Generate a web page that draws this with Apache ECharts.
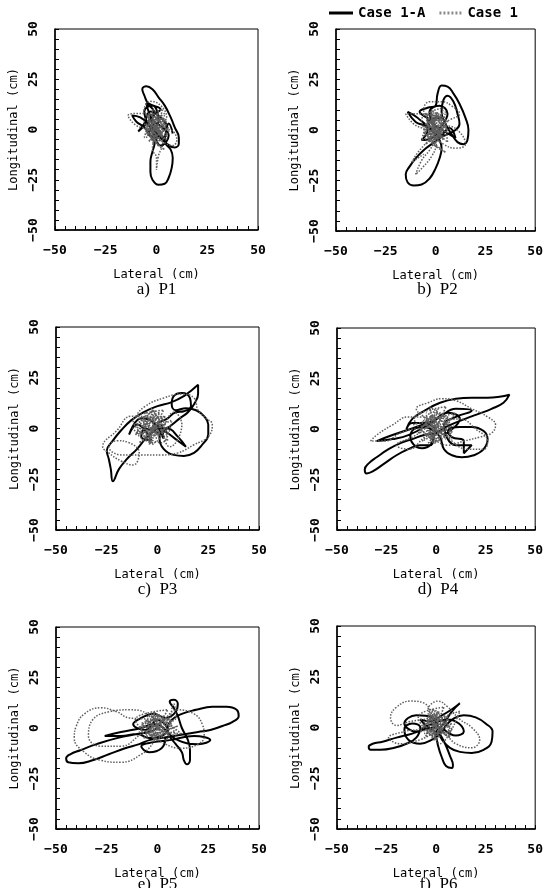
<!DOCTYPE html>
<html>
<head>
<meta charset="utf-8">
<script src="https://cdn.jsdelivr.net/npm/echarts@6/dist/echarts.min.js"></script>
<style>
  html, body { margin: 0; padding: 0; background: #fff; }
  #container { width: 546px; height: 888px; }
</style>
</head>
<body>
<div id="container"></div>
<script>
var AXIS_TICKS = [-50, -25, 0, 25, 50];
var PANEL_LABELS = ['a)  P1', 'b)  P2', 'c)  P3', 'd)  P4', 'e)  P5', 'f)  P6'];
var SERIES_NAMES = ['Case 1-A', 'Case 1'];

// Case 1-A (black) and Case 1 (grey dotted) trajectories, [lateral, longitudinal] in cm
var p1CaseA = [[0,0],[-3,6],[2,10],[-4,13],[-6,17],[-7,20],[-5,21.5],[-2,20],[1,16],[4,12],[7,6],[9,1],[11,-4],[11,-7],[9,-9],[5,-7],[1,-3],[-3,2],[-8,6],[-12,7],[-10,4],[-6,1],[-3,-3],[-1,-7],[-2,-11],[-3,-16],[-3,-21],[-2,-25],[1,-27.5],[4,-27],[6,-24],[7.5,-19],[8,-14],[7,-10],[4,-6],[5,1],[2,6],[-3,9],[-6,3],[-9,-1],[-5,3],[-1,8],[-5,13],[-2,5],[3,1],[6,-3],[2,-8],[-1,-3],[-6,9],[-2,12],[1,4],[-4,-2],[3,-4],[6,3],[8,-2]];
var p1Case1 = [[0,0],[-4,5],[3,-3],[-2,8],[4,4],[-5,-2],[2,7],[5,-5],[-3,2],[1,-8],[-6,4],[3,10],[-1,-4],[6,1],[-4,-6],[2,3],[-8,8],[-14,7],[-10,2],[-4,0],[3,-6],[8,-8],[10,-5],[6,0],[1,-2],[-2,-10],[0,-14],[0,-20],[1,-13],[3,-7],[-1,3],[-6,10],[-3,14],[2,12],[5,6],[0,2],[-3,-3],[4,-10],[-5,1],[2,5],[-2,-1],[5,3],[-4,7],[0,-6],[3,1],[-1,6],[-6,-4],[1,-1],[4,8],[-2,2],[3,-2],[-3,4],[4,-5],[-2,6],[2,-6],[-5,3],[5,5],[-1,-7],[-4,8],[6,-1],[-3,-5],[1,9],[-6,0],[4,2],[0,-3],[-2,10],[3,4],[-5,-3],[2,0]];

var p2CaseA = [[0,0],[-3,5],[-8,9],[-4,11],[0,12],[1,18],[3,22],[6,21.5],[9,18],[12,13],[15,6],[16.5,0],[16,-5],[14,-7],[11,-6],[8,-2],[5,3],[3,9],[4,15],[6,17],[9,14],[11,8],[12,3],[10,0],[6,-2],[2,-4],[-2,-7],[-6,-10],[-10,-14],[-13,-18],[-15,-22],[-14,-26],[-11,-27.5],[-7,-27],[-3,-24],[0,-19],[2,-14],[3,-9],[2,-5],[0,-2],[-5,2],[-10,4],[-14,9],[-9,6],[-4,0],[-7,-5],[-2,-4],[3,2],[6,8],[2,12],[-3,9],[-1,3],[5,-1],[10,-4],[7,1],[2,-3],[-4,5],[4,6]];
var p2Case1 = [[0,0],[-4,6],[3,-4],[-2,9],[5,3],[-6,-3],[2,8],[6,-6],[-3,2],[1,-9],[-7,5],[4,11],[-1,-5],[7,1],[-5,-7],[2,4],[-9,8],[-15,8],[-11,3],[-5,0],[4,-7],[10,-9],[15,-7],[12,-1],[6,2],[2,-2],[-3,-10],[-7,-15],[-10,-22],[-6,-18],[-2,-13],[0,-8],[-1,3],[-6,10],[-3,14],[3,14],[8,12],[12,8],[7,5],[1,2],[-4,-3],[5,-11],[-6,1],[2,6],[-2,-1],[6,4],[-5,8],[0,-6],[4,1],[-1,7],[-7,-5],[1,-1],[5,9],[-2,2],[3,-2],[-3,4],[4,-5],[-2,6],[2,-6],[-5,3],[5,5],[-1,-7],[-4,8],[6,-1],[-3,-5],[1,9],[-6,0],[4,2],[0,-3],[-2,10],[3,4],[-5,-3],[2,0],[-8,-10],[-12,-16],[-6,-12]];

var p3CaseA = [[0,0],[-5,-4],[-10,-10],[-15,-15],[-19,-20],[-22,-26],[-23,-20],[-24,-15],[-25,-11],[-22,-6],[-18,-1],[-13,4],[-7,8],[0,11],[7,13],[13,16],[17,19],[20,21.5],[20,17],[18,12],[15,8],[11,5],[6,1],[2,-1],[1,-5],[3,-10],[8,-13],[13,-13.5],[18,-12],[22,-8],[25,-3],[25,2],[23,6],[19,9],[14,10],[9,9],[7,12],[8,16],[12,17.5],[16,15],[16.5,11],[13,8.5],[9,8],[5,5],[0,2],[6,-3],[10,-6],[14,-9],[10,-4],[5,0],[0,-2],[-6,0],[-8,-4],[-3,-6],[-10,2],[-14,-3],[-8,5],[-2,3],[3,-5],[2,2]];
var p3Case1 = [[-3,0],[-9,5],[2,-4],[-6,8],[4,3],[-11,-3],[0,7],[5,-6],[-7,2],[-2,-8],[-12,4],[3,9],[-4,-5],[6,1],[-9,-7],[1,4],[-13,6],[-20,-1],[-27,-9],[-24,-12],[-18,-16],[-12,-18],[-9,-12],[-14,-7],[-20,-6],[-24,-9],[-18,-13],[-8,-13],[2,-13],[10,-12],[18,-8],[25,-4],[27,2],[24,5],[20,9],[18,15],[12,17],[3,15],[-6,11],[-10,6],[-4,2],[-8,-1],[2,-7],[7,4],[-1,0],[-6,-4],[3,6],[-10,1],[5,-2],[-3,10],[0,-5],[8,8],[12,2],[6,-9],[-1,3],[-5,2],[0,-3],[-8,6],[3,1],[-2,-7],[-10,-2],[4,6],[-6,-6],[1,8],[-12,0],[5,-4],[-3,5],[-7,-2],[2,3],[-4,-8],[-1,9],[-9,3],[3,-1]];

var p4CaseA = [[0,0],[-6,3],[-12,3],[-15,0],[-12,5],[-6,9],[2,13],[10,15],[18,15.5],[26,15.5],[32,16],[37,17],[34,13],[28,10],[20,7],[12,4],[5,1],[0,-2],[-6,-3],[-12,-5],[-18,-7],[-24,-10],[-30,-14],[-34,-17],[-36,-20],[-35,-22],[-32,-21],[-26,-17],[-20,-13],[-14,-10],[-8,-8],[-3,-8],[-1,-3],[-3,-8],[-7,-9.5],[-11,-8],[-13,-4],[-11,0],[-6,1],[-1,-1],[2,-4],[4,-10],[8,-13],[13,-14],[19,-13],[24,-10],[26,-5],[24,-1],[18,1],[12,1],[6,-1],[8,-4],[14,-6],[14,-12],[18,-8],[10,-8],[4,2],[10,6],[18,9],[10,10],[2,6],[-4,2],[-14,-3],[-22,-5],[-30,-6],[-22,-3],[-10,1],[-2,4],[6,8],[12,5],[4,-3]];
var p4Case1 = [[0,0],[-6,5],[4,-3],[-3,9],[7,4],[-9,-2],[2,8],[8,-5],[-5,2],[0,-7],[-11,5],[5,11],[-2,-4],[9,2],[-7,-6],[3,5],[-14,6],[-22,2],[-30,-3],[-33,-6],[-26,-6],[-18,-2],[-10,0],[-4,-3],[6,-8],[14,-6],[22,-4],[28,-2],[30,2],[26,6],[18,10],[10,14],[3,15],[-4,13],[-10,10],[-6,6],[1,2],[-4,-7],[7,-2],[-3,3],[4,7],[-8,1],[12,5],[20,0],[26,-6],[24,-10],[16,-10],[8,-6],[0,2],[-12,-4],[-20,-8],[-14,-10],[-6,-4],[2,4],[-1,-1],[3,-2],[-4,4],[5,-5],[-2,7],[2,-6],[-7,3],[6,6],[-1,-7],[-5,8],[8,-1],[-3,-5],[1,10],[-8,0],[5,3],[0,-3],[-3,11],[4,4],[-6,-3],[2,0],[10,8],[-12,2]];

var p5CaseA = [[0,0],[-4,-2],[-10,-3],[-20,-5],[-30,-8],[-38,-11],[-43,-13],[-45,-15],[-44,-17],[-39,-17.5],[-32,-16],[-24,-13],[-16,-10],[-9,-8],[-4,-6],[2,-5],[8,-4],[14,-3],[20,-2],[26,-1],[32,1],[37,3],[40,6],[39,9],[34,10.5],[27,10.5],[19,9],[12,7],[7,4],[5,0],[6,-4],[9,-8],[12,-12],[13,-16],[14.5,-18],[16,-16],[16,-11],[15,-6],[12,0],[10,6],[8,10],[6,13],[8,14],[10,12],[9,8],[4,5],[-2,7],[-8,5],[-12,2],[-6,-1],[0,4],[5,-1],[-4,-5],[-10,-3],[-18,-4],[-26,-4],[-18,-2],[-8,0],[-2,2],[10,-6],[20,-8],[26,-6],[18,-4],[6,-6],[-2,-7],[-8,-9],[-4,-12],[2,-10],[4,-5]];
var p5Case1 = [[0,0],[-6,4],[5,-3],[-3,7],[7,3],[-9,-2],[2,6],[9,-4],[-5,2],[0,-6],[-11,4],[5,9],[-2,-4],[10,1],[-7,-5],[3,4],[-14,5],[-20,8],[-28,10],[-36,7],[-40,1],[-41,-5],[-36,-12],[-28,-16],[-18,-17],[-8,-13],[-2,-7],[0,0],[-5,7],[-14,9],[-24,8],[-32,4],[-34,-4],[-28,-9],[-18,-9],[-8,-3],[2,3],[10,9],[18,7],[22,2],[23,-4],[20,-8],[12,-10],[4,-8],[-4,-2],[6,5],[-8,2],[12,-3],[-2,8],[4,-6],[8,12],[9,5],[-1,1],[3,-2],[-4,3],[6,-4],[-2,5],[2,-5],[-7,2],[7,4],[-1,-6],[-5,6],[9,-1],[-3,-4],[1,7],[-9,0],[5,2],[0,-3],[-3,8],[4,3],[-6,-3],[2,0]];

var p6CaseA = [[0,0],[-6,-1],[-12,-3],[-20,-5],[-27,-7],[-32,-8],[-34,-9.5],[-33,-11],[-28,-11],[-21,-10],[-15,-8],[-10,-5],[-8,0],[-12,2],[-16,-1],[-14,-6],[-8,-8],[-2,-6],[2,-3],[5,1],[9,4.5],[14,6],[20,5],[25,2],[28.5,-2],[28,-7],[24,-11],[18,-12.5],[12,-12],[7,-10],[3,-6],[1,-2],[3,-5],[5,-9],[7,-14],[8.5,-18.5],[8,-20],[5,-19],[3,-15],[1,-9],[0,-3],[4,2],[8,8],[12,12],[8,9],[3,6],[-3,3],[-8,4],[-4,0],[2,-3],[-2,5],[-10,6],[-16,2],[-10,-2],[-4,1],[6,4],[14,-2],[10,-4],[4,-1]];
var p6Case1 = [[0,0],[-5,5],[4,-3],[-2,9],[6,4],[-8,-2],[2,7],[7,-5],[-4,2],[0,-6],[-9,5],[4,10],[-2,-4],[8,2],[-6,-5],[3,5],[-13,3],[-20,1],[-23,5],[-20,10],[-13,13],[-6,12],[-3,6],[-7,0],[-16,-2],[-24,-5],[-18,-8],[-8,-6],[2,-2],[10,-8],[18,-10],[22,-6],[18,0],[12,4],[6,10],[1,13],[-4,9],[4,3],[-6,-3],[8,-1],[-3,6],[2,-8],[12,8],[-1,1],[3,-2],[-4,4],[5,-4],[-2,6],[2,-5],[-6,2],[6,5],[-1,-6],[-4,7],[7,-1],[-3,-4],[1,8],[-7,0],[4,2],[0,-3],[-2,9],[3,4],[-5,-2],[2,0]];

var caseA = [p1CaseA, p2CaseA, p3CaseA, p4CaseA, p5CaseA, p6CaseA];
var case1 = [p1Case1, p2Case1, p3Case1, p4Case1, p5Case1, p6Case1];

var boxes = [
    [55, 29, 203, 201],
    [336, 29, 203, 202],
    [56, 327, 203, 203],
    [337, 328, 202, 202],
    [56, 627, 203, 202],
    [337, 626, 203, 203]
];

var MONO = '"DejaVu Sans Mono", monospace';

function minusFmt(v) {
    return String(v).replace('-', '\u2212');
}

function makeAxis(gi, name, isY) {
    return {
        gridIndex: gi,
        type: 'value',
        min: AXIS_TICKS[0],
        max: AXIS_TICKS[AXIS_TICKS.length - 1],
        interval: 25,
        name: name,
        nameLocation: 'middle',
        nameGap: isY ? 35 : 39,
        nameTextStyle: { fontFamily: MONO, fontSize: 12, color: '#000' },
        axisLine: { show: true, onZero: false, lineStyle: { color: '#000', width: 1.5 } },
        axisTick: { show: true, inside: true, length: 4, lineStyle: { color: '#000', width: 1 } },
        minorTick: { show: true, splitNumber: 5, length: 4, lineStyle: { color: '#000', width: 1 } },
        splitLine: { show: false },
        axisLabel: {
            color: '#000',
            fontFamily: MONO,
            fontWeight: 'bold',
            fontSize: 13,
            margin: isY ? 15 : 14,
            rotate: isY ? 90 : 0,
            formatter: minusFmt
        }
    };
}

var grids = [], xAxes = [], yAxes = [], series = [], titles = [];

boxes.forEach(function (b, i) {
    grids.push({
        left: b[0], top: b[1], width: b[2], height: b[3],
        show: true, borderColor: '#000', borderWidth: 1
    });
    xAxes.push(makeAxis(i, 'Lateral (cm)', false));
    yAxes.push(makeAxis(i, 'Longitudinal (cm)', true));

    series.push({
        name: SERIES_NAMES[0],
        type: 'line',
        xAxisIndex: i,
        yAxisIndex: i,
        data: caseA[i],
        symbol: 'none',
        smooth: 0.45,
        lineStyle: { color: '#000', width: 2 },
        itemStyle: { color: '#000' }
    });
    series.push({
        name: SERIES_NAMES[1],
        type: 'line',
        xAxisIndex: i,
        yAxisIndex: i,
        data: case1[i],
        symbol: 'none',
        smooth: 0.45,
        lineStyle: { color: '#5e5e5e', width: 1.5, type: 'dotted' },
        itemStyle: { color: '#8a8a8a' }
    });

    titles.push({
        text: PANEL_LABELS[i],
        left: b[0] + b[2] / 2,
        top: i < 2 ? 281 : (i < 4 ? 581 : 876),
        textAlign: 'center',
        padding: 0,
        textStyle: {
            fontFamily: '"Liberation Serif", serif',
            fontWeight: 'normal',
            fontSize: 17,
            color: '#000'
        }
    });
});

var myChart = echarts.init(document.getElementById('container'));
var option = {
    backgroundColor: '#fff',
    animation: false,
    title: titles,
    legend: {
        data: [
            { name: SERIES_NAMES[0], icon: 'path://M0,0H24V3H0Z' },
            { name: SERIES_NAMES[1], icon: 'path://M0,0h2v3h-2z M4,0h2v3h-2z M8,0h2v3h-2z M12,0h2v3h-2z M16,0h2v3h-2z M20,0h2v3h-2z' }
        ],
        top: 6,
        left: 329,
        itemWidth: 24,
        itemHeight: 3,
        itemGap: 14,
        padding: 0,
        textStyle: { fontFamily: MONO, fontWeight: 'bold', fontSize: 14, color: '#000' }
    },
    grid: grids,
    xAxis: xAxes,
    yAxis: yAxes,
    series: series
};
myChart.setOption(option);
</script>
</body>
</html>
